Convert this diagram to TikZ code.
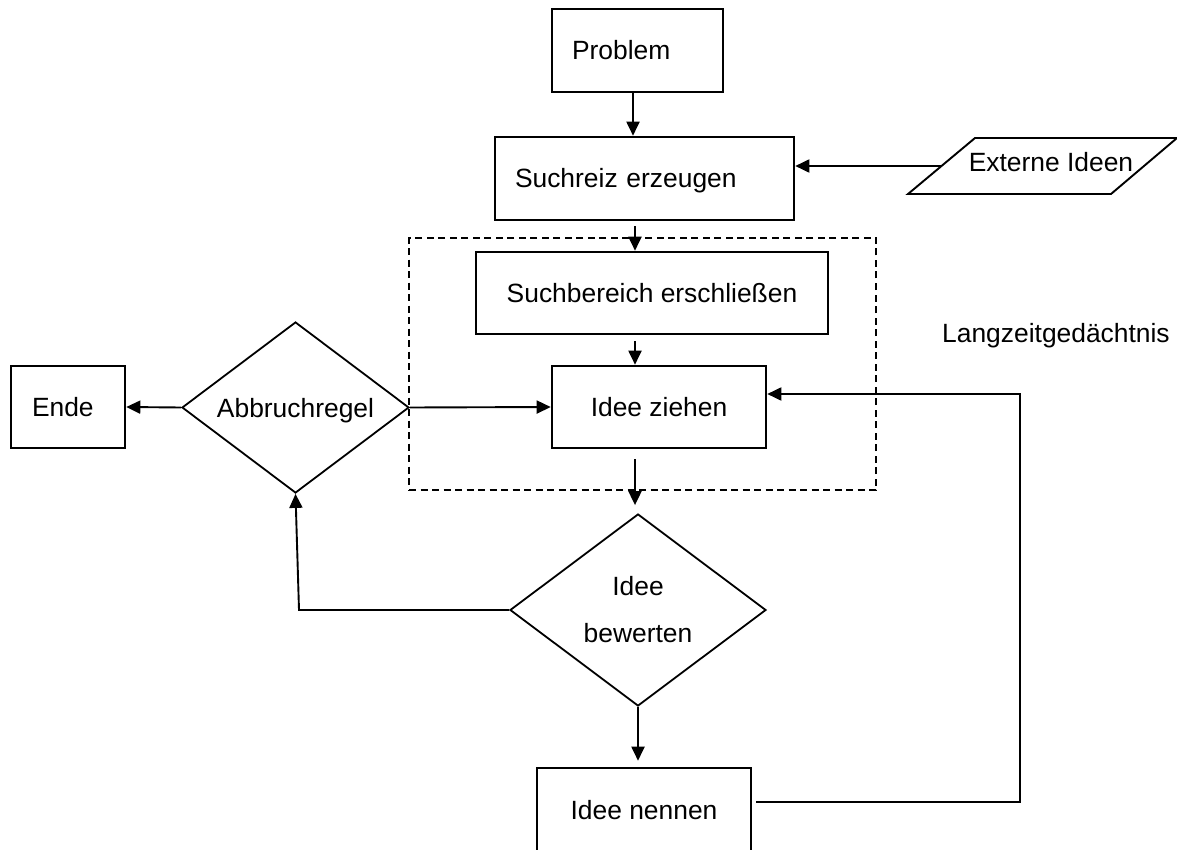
\documentclass[tikz,border=0pt]{standalone}
\usepackage{fontspec}
\setmainfont{Liberation Sans}
\usetikzlibrary{arrows.meta,shapes.geometric,calc}
\begin{document}
\begin{tikzpicture}[x=1pt,y=-1pt,
  every node/.style={font=\fontsize{26.4}{32}\selectfont, inner sep=0pt},
  box/.style={draw, rectangle, line width=2.6pt, text height=19pt, text depth=0pt},
  boxL/.style={box, align=left, inner xsep=20pt},
  decision/.style={draw, diamond, line width=1.8pt, aspect=1.33},
  flow/.style={line width=1.9pt, -{Triangle[length=14pt,width=13pt]}},
  plain/.style={line width=1.9pt},
  frame/.style={draw, dash pattern=on 7pt off 4.5pt, line width=1.7pt}
]
\useasboundingbox (0,0) rectangle (1177,850);

% search frame (long-term memory access)
\node[frame, minimum width=467pt, minimum height=252pt] (ltm) at (642.5,364) {};
\node[anchor=base west] (ltmlabel) at (942,342) {Langzeitgedächtnis};

% process boxes
\node[boxL, text width=131pt, minimum height=83pt] (prob) at (637.5,50.5) {Problem};
\node[boxL, text width=259pt, minimum height=83pt] (such) at (644.5,178.5) {Suchreiz erzeugen};
\node[box, minimum width=352pt, minimum height=82pt] (bereich) at (652,293) {Suchbereich erschließen};
\node[box, minimum width=214pt, minimum height=82pt] (zieh) at (659,407) {Idee ziehen};
\node[box, minimum width=214pt, minimum height=84pt] (nenn) at (644,810) {Idee nennen};
\node[boxL, inner xsep=21pt, text width=72pt, minimum height=82pt] (ende) at (68,407) {Ende};

% decisions
\node[decision, minimum width=227pt, minimum height=171pt, text height=19pt, text depth=0pt] (abb) at (295.5,407.5) {Abbruchregel};
\node[decision, minimum width=256pt, minimum height=192pt, align=center,
      font=\fontsize{26.4}{47}\selectfont] (bew) at (638,610) {Idee\\bewerten};

% external input (parallelogram)
\coordinate (p1) at (908,194);
\coordinate (p2) at (975,138);
\coordinate (p3) at (1177,138);
\coordinate (p4) at (1111,194);
\draw[plain] (p1) -- (p2) -- (p3) -- (p4) -- cycle;
\node[text height=19pt, text depth=0pt] (ext) at (1051,162.5) {Externe Ideen};
\coordinate (extin) at (941.5,166);

% routing helpers
\coordinate (x1) at (633,0);
\coordinate (x2) at (635,0);
\coordinate (r1) at (1020,802);
\coordinate (r2) at (1020,394);
\coordinate (l1) at (299,610);

% connectors
\draw[flow] (prob.south -| x1) -- (such.north -| x1);
\draw[flow, shorten <=5pt] (such.south -| x2) -- (bereich.north -| x2);
\draw[flow, shorten <=6pt] (bereich.south -| x2) -- (zieh.north -| x2);
\draw[flow, shorten <=10pt, shorten >=8pt] (zieh.south -| x2) -- (bew.north -| x2);
\draw[flow, shorten >=6pt] (bew.south) -- (bew.south |- nenn.north);
\draw[flow, shorten <=4pt] (nenn.east |- r1) -- (r1) -- (r2) -- (zieh.east |- r2);
\draw[flow] (bew.west) -- (l1) -- (abb.south);
\draw[flow] (abb.west) -- (ende.east);
\draw[flow] (abb.east) -- (zieh.west);
\draw[flow] (extin) -- (such.east |- extin);
\end{tikzpicture}
\end{document}
